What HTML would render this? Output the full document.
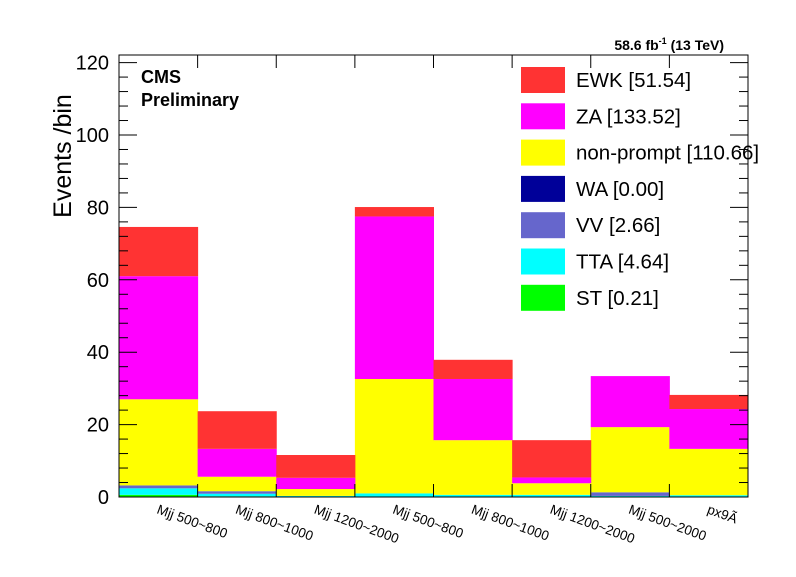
<!DOCTYPE html>
<html><head><meta charset="utf-8"><style>
body{margin:0;background:#fff;}
svg{font-family:"Liberation Sans",sans-serif;}
</style></head><body>
<svg id="c" width="796" height="572"></svg>
<script>
const categories=["Mjj 500~800","Mjj 800~1000","Mjj 1200~2000","Mjj 500~800","Mjj 800~1000","Mjj 1200~2000","Mjj 500~2000","px9Ã"];
const stVals=[0.6,0.2,0,0,0,0,0.1,0];
const ttaVals=[1.8,0.7,0.3,1.0,0.6,0.6,0.2,0.5];
const vvVals=[0.8,0.7,0,0,0,0,1.0,0];
const waVals=[0,0,0,0,0,0,0,0];
const npVals=[23.8,4.0,1.9,31.6,15.1,3.2,18.0,12.8];
const zaVals=[34.0,7.7,3.1,44.9,16.9,1.6,14.1,11.0];
const ewkVals=[13.6,10.4,6.3,2.6,5.3,10.3,0,3.9];
const yTicks=[0,20,40,60,80,100,120];
const legendLabels=["EWK [51.54]","ZA [133.52]","non-prompt [110.66]","WA [0.00]","VV [2.66]","TTA [4.64]","ST  [0.21]"];
const series=[["st",stVals,"#00ff00"],["tta",ttaVals,"#00ffff"],["vv",vvVals,"#6666cc"],["wa",waVals,"#000099"],["non-prompt",npVals,"#ffff00"],["za",zaVals,"#ff00ff"],["ewk",ewkVals,"#ff3333"]];
const L=119,R=748,T=55,B=497,YMAX=122.1;
const y=v=>B-(v/YMAX)*(B-T);
const bw=(R-L)/categories.length;
const x=i=>L+i*bw;
const svg=document.getElementById('c');
const NS="http://www.w3.org/2000/svg";
function mk(t,a,p){const e=document.createElementNS(NS,t);for(const k in a)e.setAttribute(k,a[k]);(p||svg).appendChild(e);return e;}
const cum=categories.map(()=>0);
series.forEach(([n,vals,col])=>{
  vals.forEach((v,i)=>{
    if(v<=0)return;
    const r=mk('rect',{x:x(i),y:y(cum[i]+v),width:bw+0.5,height:y(cum[i])-y(cum[i]+v),fill:col});
    
    
    cum[i]+=v;
  });
});
const frame=mk('rect',{x:L,y:T,width:R-L,height:B-T,fill:'none',stroke:'#000','stroke-width':1});


for(let v=0;v<=YMAX;v+=4){
  const len=(v%20===0)?18:9;
  mk('line',{x1:L,x2:L+len,y1:y(v),y2:y(v),stroke:'#000'});
  mk('line',{x1:R,x2:R-len,y1:y(v),y2:y(v),stroke:'#000'});
}
yTicks.forEach(v=>{
  const t=mk('text',{x:109,y:y(v)+7,'text-anchor':'end','font-size':20});
  t.textContent=v;
  
  
});
for(let i=0;i<=categories.length;i++){
  mk('line',{x1:x(i),x2:x(i),y1:B,y2:B-13,stroke:'#000'});
  mk('line',{x1:x(i),x2:x(i),y1:T,y2:T+13,stroke:'#000'});
}
categories.forEach((c,i)=>{
  const cx=x(i)+37,cy=B+16;
  const t=mk('text',{x:cx,y:cy,'text-anchor':'start','font-size':13.5,transform:`rotate(20 ${cx} ${cy})`});
  t.textContent=c;
  
  
});
const yt=mk('text',{x:62,y:165,'text-anchor':'middle','font-size':25,transform:'rotate(-90 62 156)'});
yt.textContent="Events /bin";


const cms=mk('text',{x:141,y:83,'font-size':18,'font-weight':'bold'});cms.textContent="CMS";


const pre=mk('text',{x:141,y:106,'font-size':18,'font-weight':'bold'});pre.textContent="Preliminary";


const lum=mk('text',{x:724,y:50,'text-anchor':'end','font-size':14,'font-weight':'bold'});
lum.innerHTML='58.6 fb<tspan dy="-6" font-size="9">-1</tspan><tspan dy="6"> (13 TeV)</tspan>';


const legCols=["#ff3333","#ff00ff","#ffff00","#000099","#6666cc","#00ffff","#00ff00"];
legendLabels.forEach((lab,k)=>{
  const cy=80+k*36.3;
  const b=mk('rect',{x:521,y:cy-13,width:44,height:26,fill:legCols[k]});
  
  
  const t=mk('text',{x:576,y:cy+7,'font-size':20.5});
  t.textContent=lab;
  
  
});
</script>
</body></html>
